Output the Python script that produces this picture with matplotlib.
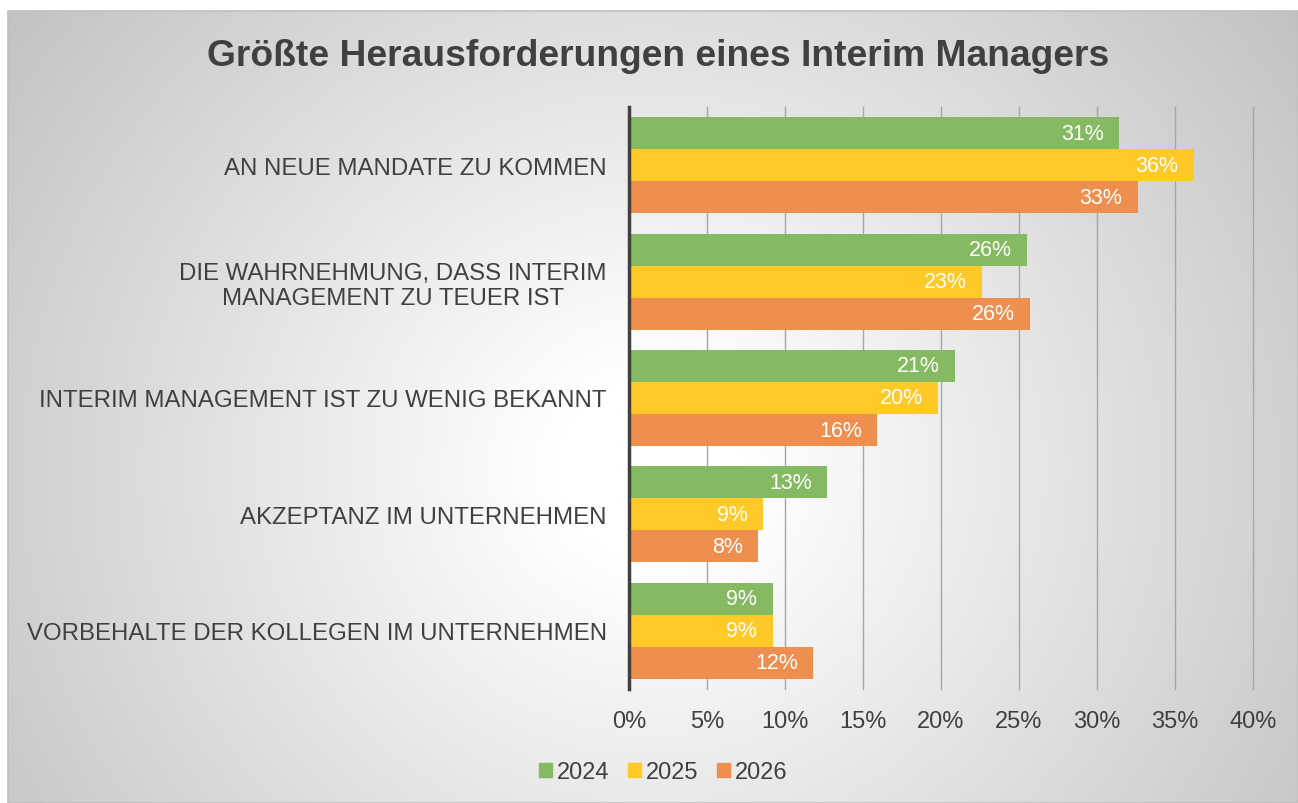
import numpy as np
import matplotlib
matplotlib.use("Agg")
import matplotlib.pyplot as plt
from matplotlib.patches import Rectangle, Patch

plt.rcParams['font.family'] = ['Liberation Sans', 'DejaVu Sans']

# data
categories = [
    "AN NEUE MANDATE ZU KOMMEN",
    "DIE WAHRNEHMUNG, DASS INTERIM\nMANAGEMENT ZU TEUER IST",
    "INTERIM MANAGEMENT IST ZU WENIG BEKANNT",
    "AKZEPTANZ IM UNTERNEHMEN",
    "VORBEHALTE DER KOLLEGEN IM UNTERNEHMEN",
]
years = ["2024", "2025", "2026"]
v2024 = [31.4, 25.5, 20.9, 12.7, 9.2]
v2025 = [36.2, 22.6, 19.8, 8.6, 9.2]
v2026 = [32.6, 25.7, 15.9, 8.3, 11.8]
xticks = [0, 5, 10, 15, 20, 25, 30, 35, 40]

colors = ["#85BA63", "#FFC928", "#EF8F4F"]
text_col = "#404040"

W, H = 1298, 804
fig = plt.figure(figsize=(W / 100, H / 100), dpi=100)

# radial gradient background
bg = fig.add_axes([0, 0, 1, 1], zorder=-10)
yy, xx = np.mgrid[0:H, 0:W]
r = np.hypot((xx - 650) / 1.05, yy - 470)
g = 1 - 0.24 * np.clip((r - 90) / 680, 0, 1)
img = np.dstack([g, g, g])
img[:12, :, :] = 1.0
img[:, :8, :] = 1.0
bg.imshow(img, extent=[0, W, H, 0], aspect='auto', interpolation='bilinear')
bg.add_patch(Rectangle((8, 12), W - 8, H - 12, fill=False, edgecolor="#bfbfbf", lw=1.2))
bg.set_xlim(0, W)
bg.set_ylim(H, 0)
bg.axis('off')

ax = fig.add_axes([629 / W, 1 - 690 / H, (1253 - 629) / W, (690 - 108) / H])
ax.patch.set_alpha(0)

y = np.arange(len(categories))
h = 0.275
for i, (vals, c) in enumerate(zip([v2024, v2025, v2026], colors)):
    bars = ax.barh(y + (i - 1) * h, vals, height=h, color=c, zorder=3)
    for b, v in zip(bars, vals):
        ax.annotate(f"{round(v):.0f}%", (v, b.get_y() + h / 2), xytext=(-11, 0),
                    textcoords='offset points', ha='right', va='center',
                    color='white', fontsize=15.5, zorder=4)

ax.set_xlim(0, 40)
ax.set_ylim(len(categories) - 0.5, -0.5)
ax.set_xticks(xticks)
ax.set_xticklabels([f"{t}%" for t in xticks])
ax.set_yticks(y)
ax.set_yticklabels(categories, multialignment='center', linespacing=1.15)
ax.tick_params(axis='x', length=0, pad=15, labelsize=17, labelcolor=text_col)
ax.tick_params(axis='y', length=0, pad=16, labelsize=17.3, labelcolor=text_col)
ax.grid(axis='x', color="#a6a6a6", lw=1, zorder=0)
for gl in ax.get_xgridlines():
    gl.set_clip_on(False)
for s in ['top', 'right', 'bottom']:
    ax.spines[s].set_visible(False)
ax.spines['left'].set_color("#404040")
ax.spines['left'].set_linewidth(2.5)
ax.spines['left'].set_zorder(5)

fig.text(658 / W, 1 - 56 / H, "Größte Herausforderungen eines Interim Managers",
         ha='center', va='center', fontsize=26.8, fontweight='bold', color=text_col)

handles = [Patch(color=c) for c in colors]
fig.legend(handles, years, loc='center', bbox_to_anchor=(663 / W, 1 - 773 / H),
           ncol=3, frameon=False, fontsize=17, labelcolor=text_col,
           handlelength=0.55, handleheight=0.55, handletextpad=0.2, columnspacing=0.8)

fig.savefig("out.png", dpi=100)
